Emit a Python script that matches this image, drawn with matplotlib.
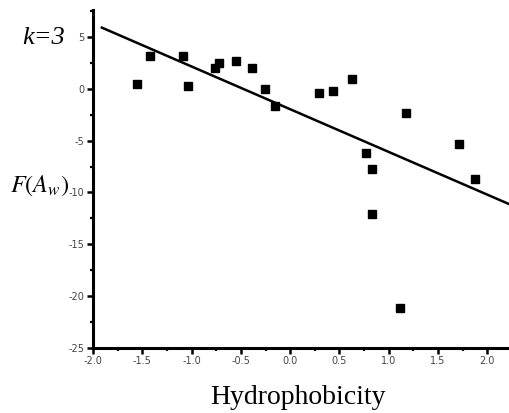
import numpy as np
import matplotlib
matplotlib.use("Agg")
import matplotlib.pyplot as plt
from matplotlib.ticker import MultipleLocator

plt.rcParams['axes.unicode_minus'] = False

# hydrophobicity vs F(A_w)
hydro = [-1.55, -1.42, -1.09, -1.04, -0.76, -0.72, -0.55, -0.39, -0.26, -0.15,
         0.29, 0.43, 0.63, 0.77, 0.83, 0.83, 1.11, 1.18, 1.71, 1.88]
f_aw = [0.5, 3.2, 3.2, 0.3, 2.0, 2.5, 2.7, 2.0, 0.0, -1.7,
        -0.4, -0.2, 0.9, -6.2, -7.7, -12.1, -21.1, -2.3, -5.3, -8.7]

# fitted line
fit_slope = -4.12
fit_icpt = -1.97
fit_x = [-1.91, 2.3]

fig = plt.figure(figsize=(5.1, 4.13), dpi=100)
ax = fig.add_axes([93 / 510, 65 / 413, 1 - 93 / 510, (348 - 10) / 413])

ax.plot(hydro, f_aw, 's', color='black', markersize=5.5, clip_on=False)
fx = np.array(fit_x)
ax.plot(fx, fit_icpt + fit_slope * fx, color='black', lw=1.8)

ax.set_xlim(-2.0, 2.23)
ax.set_ylim(-25, 7.6)
ax.xaxis.set_major_locator(MultipleLocator(0.5))
ax.xaxis.set_minor_locator(MultipleLocator(0.25))
ax.yaxis.set_major_locator(MultipleLocator(5))
ax.yaxis.set_minor_locator(MultipleLocator(2.5))
ax.xaxis.set_major_formatter(plt.FuncFormatter(lambda v, p: f"{v:.1f}"))

for s in ['top', 'right']:
    ax.spines[s].set_visible(False)
for s in ['left', 'bottom']:
    ax.spines[s].set_linewidth(2.2)
ax.tick_params(which='major', direction='out', length=4, width=1.8,
               labelsize=7, labelcolor='#444444', pad=2)
ax.tick_params(which='minor', direction='out', length=2.5, width=1.6)

fig.text(22 / 510, 1 - 38 / 413, "k=3", fontsize=19, family='Liberation Serif',
         style='italic', va='center', ha='left')
fig.text(10 / 510, 1 - 186 / 413, r"$F(A_w)$", fontsize=17.5, va='center', ha='left',
         math_fontfamily='stix')
fig.text(298 / 510, 1 - 397 / 413, "Hydrophobicity", fontsize=20,
         family='Liberation Serif', ha='center', va='center')

fig.savefig("out.png", dpi=100)
